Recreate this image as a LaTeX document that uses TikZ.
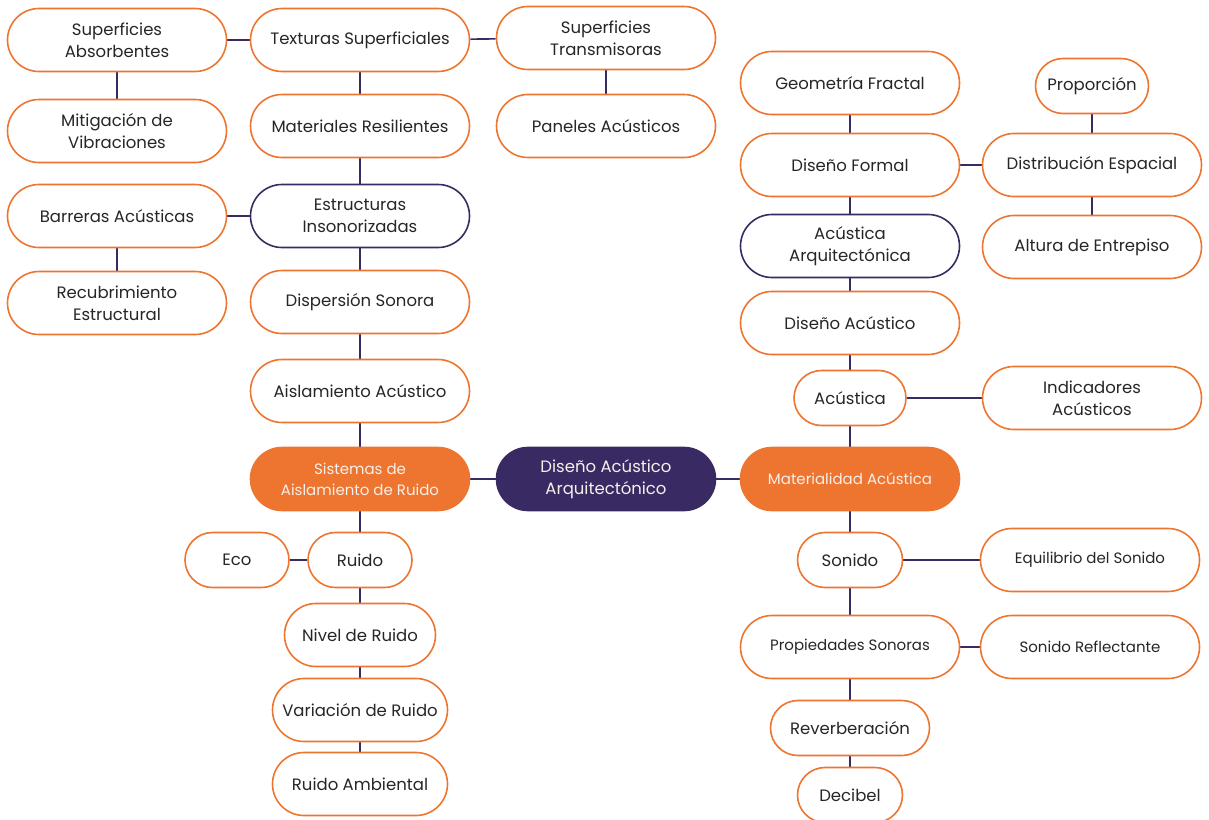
\documentclass[tikz,border=0pt]{standalone}
\usepackage{fontspec}
\setmainfont{Poppins}
\usetikzlibrary{backgrounds}
\definecolor{orng}{HTML}{EE7530}
\definecolor{purp}{HTML}{3A2A63}
\definecolor{txt}{HTML}{262626}
\definecolor{light}{HTML}{F6EFEA}
\begin{document}
\begin{tikzpicture}[x=1pt,y=-1pt,
  box/.style={draw=orng, line width=1.6pt, fill=white, text=txt, align=center, inner sep=0pt,
    font=\fontsize{16.5}{22}\selectfont},
  wide/.style={box, minimum width=219pt, minimum height=63pt, rounded corners=31.5pt},
  small/.style={box, minimum height=55pt, rounded corners=27.5pt},
  mid/.style={box, minimum height=63pt, rounded corners=31.5pt},
  dark/.style={draw=purp},
  tiny/.style={font=\fontsize{15}{21}\selectfont},
  link/.style={draw=purp, line width=1.6pt}]
\useasboundingbox (0,0) rectangle (1209,819);
\clip (0,0) rectangle (1209,819);
% column A
\node[wide] (supabs) at (117,40) {Superficies\\Absorbentes};
\node[wide] (mitig) at (117,131) {Mitigación de\\Vibraciones};
\node[wide] (barr) at (117,216) {Barreras Acústicas};
\node[wide] (recub) at (117,303) {Recubrimiento\\Estructural};
% column B
\node[wide] (text) at (360,40) {Texturas Superficiales};
\node[wide] (mater) at (360,126) {Materiales Resilientes};
\node[wide,dark] (estr) at (360,216) {Estructuras\\Insonorizadas};
\node[wide] (disp) at (360,302) {Dispersión Sonora};
\node[wide] (aisl) at (360,391) {Aislamiento Acústico};
\node[wide, fill=orng, text=light, tiny] (sist) at (360,479) {Sistemas de\\Aislamiento de Ruido};
% column C
\node[wide] (suptr) at (606,38) {Superficies\\Transmisoras};
\node[wide] (panel) at (606,126) {Paneles Acústicos};
\node[wide, draw=purp, fill=purp, text=light] (centro) at (606,479) {Diseño Acústico\\Arquitectónico};
% column D
\node[wide] (geom) at (850,83) {Geometría Fractal};
\node[wide] (dform) at (850,165) {Diseño Formal};
\node[wide,dark] (acarq) at (850,246) {Acústica\\Arquitectónica};
\node[wide] (dacus) at (850,323) {Diseño Acústico};
\node[small, minimum width=112pt] (acus) at (850,398) {Acústica};
\node[wide, fill=orng, text=light, tiny] (matac) at (850,479) {Materialidad Acústica};
\node[small, minimum width=105pt] (sonido) at (850,560) {Sonido};
\node[wide, tiny] (prop) at (850,647) {Propiedades Sonoras};
\node[small, minimum width=159pt] (reverb) at (850,728) {Reverberación};
\node[small, minimum width=105pt] (decib) at (850,795) {Decibel};
% column E
\node[small, minimum width=113pt] (propor) at (1092,86) {Proporción};
\node[wide] (distr) at (1092,165) {Distribución Espacial};
\node[wide] (altura) at (1092,247) {Altura de Entrepiso};
\node[wide] (indic) at (1092,398) {Indicadores\\Acústicos};
\node[wide, tiny] (equil) at (1090,560) {Equilibrio del Sonido};
\node[wide, tiny] (refl) at (1090,647) {Sonido Reflectante};
% bottom left
\node[small, minimum width=104pt] (eco) at (237,560) {Eco};
\node[small, minimum width=104pt] (ruido) at (360,560) {Ruido};
\node[mid, minimum width=151pt] (nivel) at (360,635) {Nivel de Ruido};
\node[mid, minimum width=175pt] (varia) at (360,710) {Variación de Ruido};
\node[mid, minimum width=175pt] (ramb) at (360,784) {Ruido Ambiental};
\begin{scope}[on background layer]
\draw[link] (supabs) -- (text);
\draw[link] (text) -- (suptr);
\draw[link] (supabs) -- (mitig);
\draw[link] (text) -- (mater);
\draw[link] (suptr) -- (panel);
\draw[link] (mater) -- (estr);
\draw[link] (barr) -- (estr);
\draw[link] (barr) -- (recub);
\draw[link] (estr) -- (disp);
\draw[link] (disp) -- (aisl);
\draw[link] (aisl) -- (sist);
\draw[link] (sist) -- (centro);
\draw[link] (centro) -- (matac);
\draw[link] (sist) -- (ruido);
\draw[link] (eco) -- (ruido);
\draw[link] (ruido) -- (nivel);
\draw[link] (nivel) -- (varia);
\draw[link] (varia) -- (ramb);
\draw[link] (geom) -- (dform);
\draw[link] (dform) -- (acarq);
\draw[link] (acarq) -- (dacus);
\draw[link] (dacus) -- (acus);
\draw[link] (acus) -- (matac);
\draw[link] (dform) -- (distr);
\draw[link] (propor) -- (distr);
\draw[link] (distr) -- (altura);
\draw[link] (acus) -- (indic);
\draw[link] (matac) -- (sonido);
\draw[link] (sonido) -- (prop);
\draw[link] (prop) -- (reverb);
\draw[link] (reverb) -- (decib);
\draw[link] (sonido) -- (equil);
\draw[link] (prop) -- (refl);
\end{scope}
\end{tikzpicture}
\end{document}
